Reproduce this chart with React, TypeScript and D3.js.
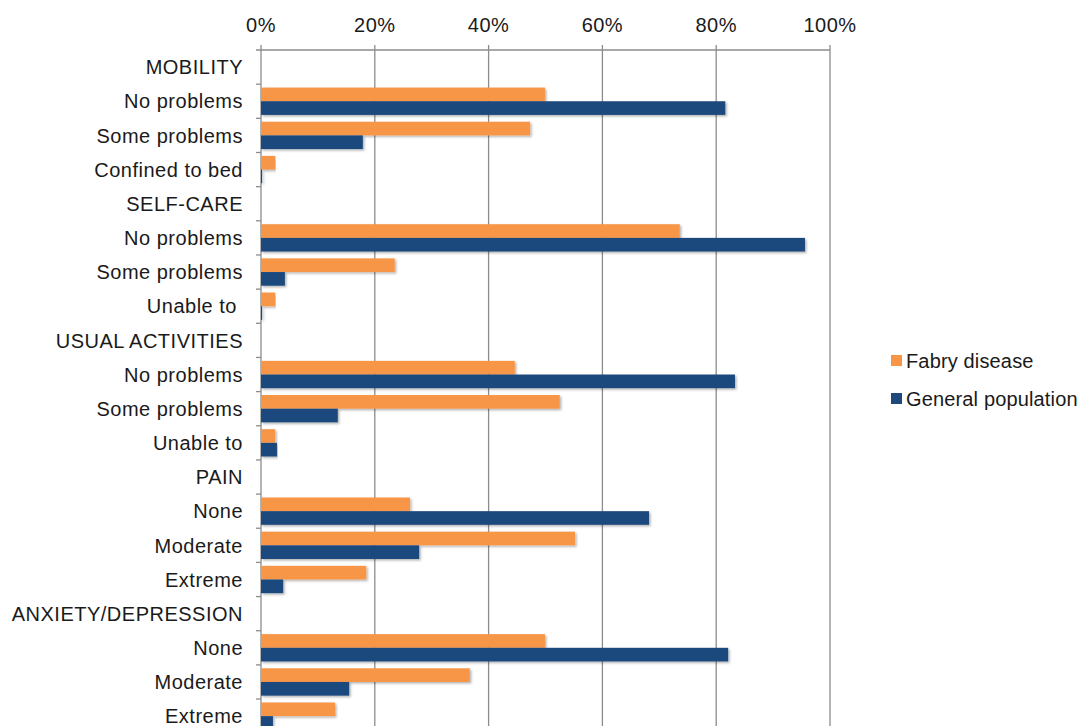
import React from "react";
import * as d3 from "d3";

const categories = [
  "MOBILITY", "No problems", "Some problems", "Confined to bed",
  "SELF-CARE", "No problems", "Some problems", "Unable to ",
  "USUAL ACTIVITIES", "No problems", "Some problems", "Unable to",
  "PAIN", "None", "Moderate", "Extreme",
  "ANXIETY/DEPRESSION", "None", "Moderate", "Extreme",
];
const fabry: (number | null)[] = [
  null, 49.9, 47.3, 2.5,
  null, 73.6, 23.5, 2.5,
  null, 44.6, 52.5, 2.5,
  null, 26.2, 55.2, 18.5,
  null, 49.9, 36.7, 13.0,
];
const general: (number | null)[] = [
  null, 81.6, 17.9, 0.2,
  null, 95.6, 4.2, 0.2,
  null, 83.3, 13.5, 2.8,
  null, 68.2, 27.8, 3.9,
  null, 82.1, 15.5, 2.1,
];
const tickValues = [0, 20, 40, 60, 80, 100];
const seriesNames = ["Fabry disease", "General population"];
const seriesColors = ["#F79646", "#1F497D"];

export default function App() {
  const W = 1082, H = 726;
  const left = 261, right = 830, top = 50;
  const band = 34.16;
  const x = d3.scaleLinear().domain([0, 100]).range([left, right]);
  const ids = categories.map((_, i) => String(i));
  const y = d3.scaleBand().domain(ids).range([top, top + band * categories.length]).paddingInner(0).paddingOuter(0);
  const bh = y.bandwidth() * 0.4;
  const off = y.bandwidth() * 0.1;
  const font = "'Liberation Sans', Arial, sans-serif";
  const grid = "#8C8C8C";
  const fs = 20;
  const ls = 0.5;

  return (
    <svg width={W} height={H} style={{ position: "absolute", left: 0, top: 0, background: "#fff" }} fontFamily={font}>
      <defs>
        <filter id="sh" x="-5%" y="-30%" width="110%" height="180%">
          <feDropShadow dx="1.5" dy="1.5" stdDeviation="1.2" floodColor="#000" floodOpacity="0.3" />
        </filter>
      </defs>
      {tickValues.map((t) => (
        <line key={"g" + t} x1={x(t)} x2={x(t)} y1={top - 5} y2={H} stroke={grid} strokeWidth={1.3} />
      ))}
      <line x1={left - 5} x2={right} y1={top} y2={top} stroke={grid} strokeWidth={1.3} />
      {tickValues.map((t) => (
        <text key={"t" + t} x={x(t)} y={top - 18} textAnchor="middle" fontSize={fs} letterSpacing={ls} fill="#1a1a1a">
          {t + "%"}
        </text>
      ))}
      {ids.map((id) => (
        <line key={"lt" + id} x1={left - 5} x2={left} y1={(y(id) as number) + y.bandwidth()} y2={(y(id) as number) + y.bandwidth()} stroke={grid} strokeWidth={1.3} />
      ))}
      {ids.map((id, i) => {
        const y0 = y(id) as number;
        const f = fabry[i];
        const g = general[i];
        return (
          <g key={"b" + id} filter="url(#sh)">
            {f != null && <rect x={x(0)} y={y0 + off} width={x(f) - x(0)} height={bh} fill={seriesColors[0]} />}
            {g != null && <rect x={x(0)} y={y0 + off + bh} width={x(g) - x(0)} height={bh} fill={seriesColors[1]} />}
          </g>
        );
      })}
      {ids.map((id, i) => (
        <text key={"c" + id} x={243} y={(y(id) as number) + y.bandwidth() / 2} dy="0.36em" textAnchor="end" fontSize={fs} letterSpacing={ls} fill="#1a1a1a" style={{ whiteSpace: "pre" }}>
          {categories[i]}
        </text>
      ))}
      {seriesNames.map((n, i) => (
        <g key={"l" + n} transform={`translate(891, ${355 + i * 38})`}>
          <rect x={0} y={0} width={11} height={11} fill={seriesColors[i]} />
          <text x={15} y={6} dy="0.36em" fontSize={fs} letterSpacing={0.15} fill="#1a1a1a">{n}</text>
        </g>
      ))}
    </svg>
  );
}
